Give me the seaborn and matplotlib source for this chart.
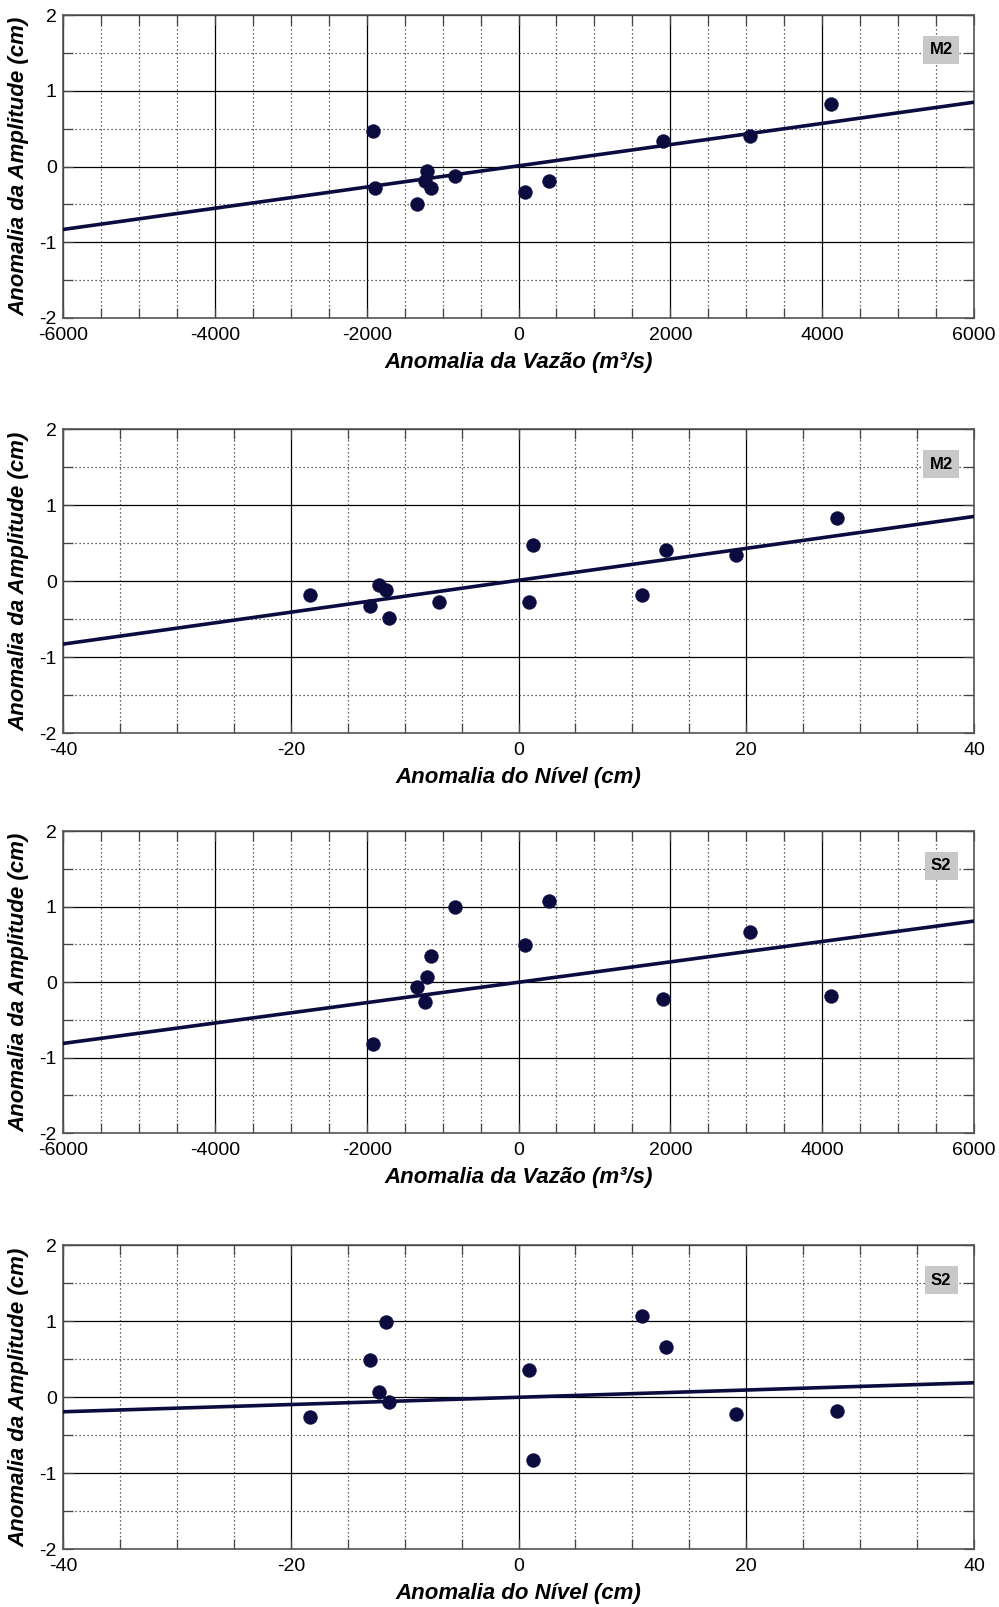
import matplotlib
matplotlib.use("Agg")
import matplotlib.pyplot as plt
from matplotlib.ticker import MultipleLocator, FixedLocator
import pandas as pd
import seaborn as sns

# Anomalias observadas (12 campanhas)
vazao = [-1919, -1890, -1343, -1230, -1199, -1158, -838, 85, 405, 1901, 3048, 4111]
nivel = [1.23, -6.95, -11.37, -18.32, -12.21, 0.90, -11.60, -13.00, 10.87, 19.10, 12.94, 27.95]
amp_m2 = [0.47, -0.28, -0.49, -0.185, -0.056, -0.28, -0.122, -0.335, -0.185, 0.337, 0.403, 0.825]
amp_s2 = [-0.827, -2.10, -0.069, -0.265, 0.071, 0.35, 0.987, 0.49, 1.07, -0.227, 0.662, -0.188]

vazao_ticks = [-6000, -4000, -2000, 0, 2000, 4000, 6000]
nivel_ticks = [-40, -20, 0, 20, 40]
amp_ticks = [-2, -1, 0, 1, 2]

dados = pd.DataFrame({"vazao": vazao, "nivel": nivel, "M2": amp_m2, "S2": amp_s2})

sns.set_theme(style="white")
plt.rcParams["font.family"] = ["Liberation Sans", "DejaVu Sans"]

NAVY = "#0b0b40"
W, H = 999, 1607
fig = plt.figure(figsize=(W / 100, H / 100), dpi=100)
fig.patch.set_facecolor("white")

# (x, y, rótulo x, ticks x, passo da grade secundária, topo px, base px)
paineis = [
    ("vazao", "M2", "Anomalia da Vazão (m³/s)", vazao_ticks, 500, 15, 318),
    ("nivel", "M2", "Anomalia do Nível (cm)", nivel_ticks, 5, 429, 733),
    ("vazao", "S2", "Anomalia da Vazão (m³/s)", vazao_ticks, 500, 831, 1133),
    ("nivel", "S2", "Anomalia do Nível (cm)", nivel_ticks, 5, 1245, 1549),
]

left_px, right_px = 63, 974

for xcol, ycol, xlabel, xt, xminor, top, bot in paineis:
    ax = fig.add_axes([left_px / W, 1 - bot / H, (right_px - left_px) / W, (bot - top) / H])
    ax.set_facecolor("white")
    ax.set_xlim(xt[0], xt[-1])
    ax.set_ylim(amp_ticks[0], amp_ticks[-1])

    sns.regplot(data=dados, x=xcol, y=ycol, ax=ax, scatter=False, ci=None,
                truncate=False, line_kws=dict(color=NAVY, lw=2.6, zorder=3))
    sns.scatterplot(data=dados, x=xcol, y=ycol, ax=ax, color=NAVY, s=100,
                    edgecolor=NAVY, linewidth=0.3, zorder=4, legend=False)

    ax.set_xlim(xt[0], xt[-1])
    ax.set_ylim(amp_ticks[0], amp_ticks[-1])
    ax.xaxis.set_major_locator(FixedLocator(xt))
    ax.yaxis.set_major_locator(FixedLocator(amp_ticks))
    ax.xaxis.set_minor_locator(MultipleLocator(xminor))
    ax.yaxis.set_minor_locator(MultipleLocator(0.5))
    ax.set_xticklabels([str(v) for v in xt])
    ax.set_yticklabels([str(v) for v in amp_ticks])

    ax.set_axisbelow(True)
    ax.grid(True, which="major", color="black", lw=0.9, ls="-")
    ax.grid(True, which="minor", color="#333333", lw=0.9, ls=(0, (1, 2.2)))

    for sp in ax.spines.values():
        sp.set_color("#555555")
        sp.set_linewidth(1.2)
        sp.set_visible(True)

    ax.tick_params(which="both", direction="in", top=True, right=True,
                   bottom=True, left=True, color="#444444", width=0.9, length=7)
    ax.tick_params(axis="x", which="major", labelsize=14, pad=6.5, labelcolor="black")
    ax.tick_params(axis="y", which="major", labelsize=14, pad=4.5, labelcolor="black")

    ax.set_xlabel(xlabel, fontsize=16, fontweight="bold", fontstyle="italic", color="black")
    ax.set_ylabel("Anomalia da Amplitude (cm)", fontsize=16, fontweight="bold",
                  fontstyle="italic", color="black")
    ax.xaxis.set_label_coords(0.5, -0.112)
    ax.yaxis.set_label_coords(-0.037, 0.5)
    ax.xaxis.label.set_va("top")

    ax.text(0.964, 0.8845, ycol, transform=ax.transAxes, ha="center", va="center",
            fontsize=12, fontweight="bold", color="black", zorder=5,
            bbox=dict(boxstyle="square,pad=0.38", fc="#c8c8c8", ec="none"))

fig.savefig("out.png", dpi=100, facecolor="white")
